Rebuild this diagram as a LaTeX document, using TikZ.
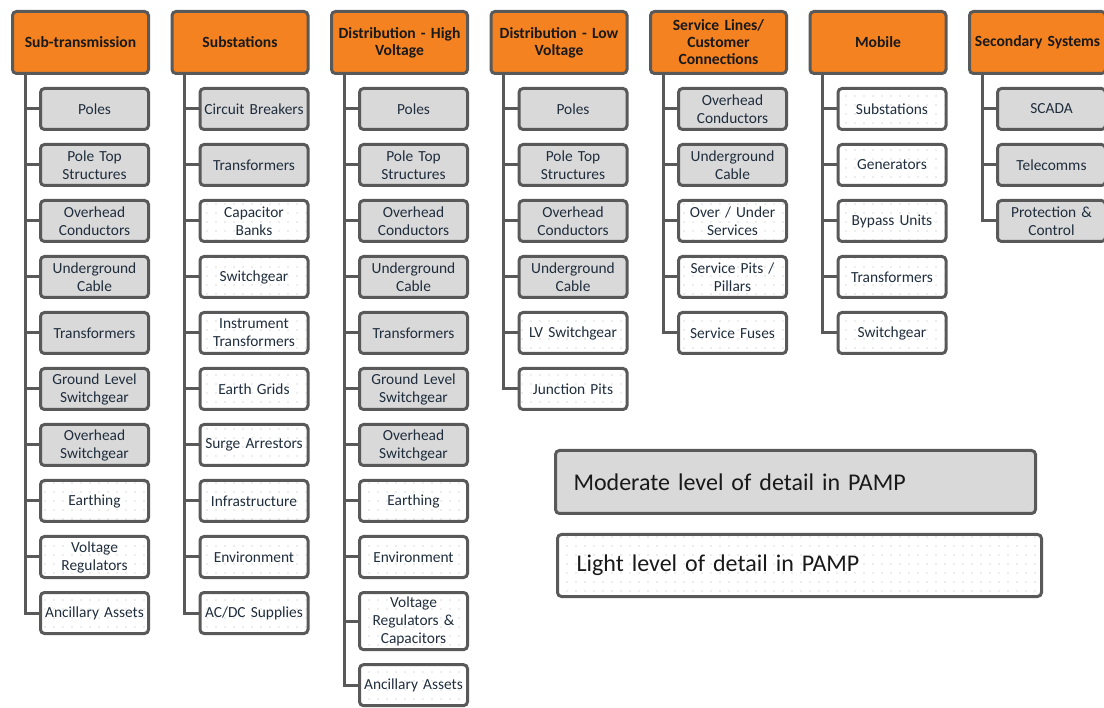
\documentclass[tikz,border=0pt]{standalone}
\usepackage{fontspec}
\setmainfont{Carlito}
\usetikzlibrary{positioning,patterns.meta}
\definecolor{hdorange}{HTML}{F58220}
\definecolor{boxgray}{HTML}{D9D9D9}
\definecolor{edgegray}{HTML}{595959}
\definecolor{txtblue}{HTML}{1F2D3D}

\begin{document}
\begin{tikzpicture}[x=1pt, y=-1pt,
	box/.style={draw=edgegray, line width=3pt, rounded corners=4pt, align=center, inner xsep=1pt, inner ysep=4pt},
	head/.style={box, fill=hdorange, minimum width=136pt, minimum height=62pt, text width=134pt, font=\fontsize{15.6}{17}\selectfont\bfseries, text=black!90},
	asset/.style={box, minimum width=108pt, minimum height=41pt, text width=106pt, font=\fontsize{15.4}{18}\selectfont, text=txtblue},
	moder/.style={asset, fill=boxgray},
	light/.style={asset, pattern={Dots[distance=9pt, radius=0.55pt]}, pattern color=black!30},
	trunk/.style={draw=edgegray, line width=3pt}]
	\useasboundingbox (0,0) rectangle (1104,708);
	% one column per asset class: header, then its assets hanging off a trunk
	\foreach \n/\hd/\items in {
		1/{Sub-transmission}/{Poles/moder, {Pole Top\\Structures}/moder, {Overhead\\Conductors}/moder, {Underground\\Cable}/moder, Transformers/moder, {Ground Level\\Switchgear}/moder, {Overhead\\Switchgear}/moder, Earthing/light, {Voltage\\Regulators}/light, {Ancillary Assets}/light},
		2/{Substations}/{{Circuit Breakers}/moder, Transformers/moder, {Capacitor\\Banks}/light, Switchgear/light, {Instrument\\Transformers}/light, {Earth Grids}/light, {Surge Arrestors}/light, Infrastructure/light, Environment/light, {AC/DC Supplies}/light},
		3/{Distribution - High\\Voltage}/{Poles/moder, {Pole Top\\Structures}/moder, {Overhead\\Conductors}/moder, {Underground\\Cable}/moder, Transformers/moder, {Ground Level\\Switchgear}/moder, {Overhead\\Switchgear}/moder, Earthing/light, Environment/light, {Voltage\\Regulators \&\\Capacitors}/light, {Ancillary Assets}/light},
		4/{Distribution - Low\\Voltage}/{Poles/moder, {Pole Top\\Structures}/moder, {Overhead\\Conductors}/moder, {Underground\\Cable}/moder, {LV Switchgear}/light, {Junction Pits}/light},
		5/{Service Lines/\\Customer\\Connections}/{{Overhead\\Conductors}/moder, {Underground\\Cable}/moder, {Over / Under\\Services}/light, {Service Pits /\\Pillars}/light, {Service Fuses}/light},
		6/{Mobile}/{Substations/light, Generators/light, {Bypass Units}/light, Transformers/light, Switchgear/light},
		7/{Secondary Systems}/{SCADA/moder, Telecomms/moder, {Protection \&\\Control}/moder}} {
		\node[head, alias=c\n-0] (h\n) at ({80.5+159.5*(\n-1)},42.5) {\hd};
		\coordinate (t\n) at ([xshift=14pt]h\n.south west);
		\foreach \txt/\sty [count=\i, remember=\i as \j (initially 0)] in \items {
			\node[\sty, below=12pt of c\n-\j.south east, anchor=north east] (c\n-\i) {\txt};
			\draw[trunk] (c\n-\i.west) -| (t\n);
		}
	}
	% legend
	\node[box, fill=boxgray, minimum width=480pt, minimum height=63pt, text width=444pt, align=left, font=\fontsize{24}{28}\selectfont, text=black!90] (legmod) at (795.5,482) {Moderate level of detail in PAMP};
	\node[box, pattern={Dots[distance=9pt, radius=0.55pt]}, pattern color=black!30, minimum width=484pt, minimum height=62pt, text width=446pt, align=left, font=\fontsize{24}{28}\selectfont, text=black!90] (leglight) at (799.5,565.5) {Light level of detail in PAMP};
\end{tikzpicture}
\end{document}
